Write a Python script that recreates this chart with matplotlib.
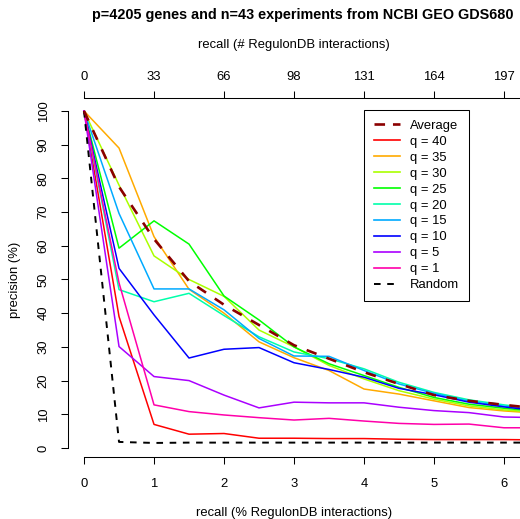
import matplotlib
matplotlib.use("Agg")
import matplotlib.pyplot as plt
from matplotlib.lines import Line2D

plt.rcParams["font.family"] = ["Liberation Sans", "DejaVu Sans"]

# recall (% of RegulonDB interactions) at which precision was measured
recall = [0, 0.5, 1, 1.5, 2, 2.5, 3, 3.5, 4, 4.5, 5, 5.5, 6, 6.5]

avg = [100, 77.5, 62, 49.5, 42.5, 36.5, 30.5, 26.5, 22.5, 19, 15.7, 14, 12.8, 11.7]
q40 = [100, 39, 7, 4.1, 4.3, 2.9, 2.9, 2.8, 2.8, 2.6, 2.5, 2.5, 2.5, 2.4]
q35 = [100, 89, 62.7, 47.1, 40, 31.5, 26.8, 23, 17.5, 16, 14, 12, 11, 10.3]
q30 = [100, 78, 57, 50, 45, 35, 30, 24.5, 20.5, 17, 14.5, 12.5, 11.3, 10.5]
q25 = [100, 59.3, 67.4, 60.5, 45.1, 38, 30, 25, 21.5, 18, 15, 13, 11.8, 10.8]
q20 = [100, 47, 43.4, 45.9, 39.3, 33, 28.5, 26.5, 23.5, 19.5, 16.5, 14.3, 12.8, 11.5]
q15 = [100, 69.6, 47.2, 47.2, 41, 32.5, 27.3, 27.2, 23, 19, 16.2, 13.9, 12.4, 11.3]
q10 = [100, 53.3, 39.5, 26.7, 29.3, 29.8, 25.3, 23.3, 21, 17.7, 15.8, 13.6, 12.2, 11]
q5 = [100, 30.1, 21.2, 20, 15.7, 11.9, 13.6, 13.4, 13.4, 12.1, 11.1, 10.5, 9.2, 9.0]
q1 = [100, 49, 12.8, 10.8, 9.8, 9, 8.3, 8.8, 8, 7.3, 7, 7.1, 6, 6]
rnd = [100, 1.8, 1.5, 1.6, 1.6, 1.6, 1.6, 1.6, 1.6, 1.6, 1.6, 1.6, 1.6, 1.6]

q_labels = ["q = 40", "q = 35", "q = 30", "q = 25", "q = 20",
            "q = 15", "q = 10", "q = 5", "q = 1"]
q_series = [q40, q35, q30, q25, q20, q15, q10, q5, q1]
# R rainbow(9)
q_colors = ["#FF0000", "#FFAA00", "#AAFF00", "#00FF00", "#00FFAA",
            "#00AAFF", "#0000FF", "#AA00FF", "#FF00AA"]

bottom_ticks = [0, 1, 2, 3, 4, 5, 6]
top_labels = ["0", "33", "66", "98", "131", "164", "197"]
y_ticks = list(range(0, 101, 10))

W, H = 520, 519
fig = plt.figure(figsize=(W / 100, H / 100), dpi=100)
L, R, T, B = 68, 520, 97.5, 457
ax = fig.add_axes([L / W, 1 - B / H, (R - L) / W, (B - T) / H])
ax.set_xlim(-0.229, 6.229)
ax.set_ylim(-2.67, 104.0)

fs = 9.4
lw = 1.1
for ys, c in zip(q_series, q_colors):
    ax.plot(recall, ys, color=c, lw=lw, zorder=2)
ax.plot(recall, rnd, color="black", lw=1.4, dashes=(3.4, 3.4), zorder=3)
ax.plot(recall, avg, color="#8B0000", lw=1.9, dashes=(4, 4), zorder=4)

# axes in R style
for s in ("right", "top"):
    ax.spines[s].set_visible(False)
ax.spines["left"].set_bounds(0, 100)
ax.spines["bottom"].set_bounds(0, 6.229)
for s in ("left", "bottom"):
    ax.spines[s].set_linewidth(0.75)
ax.set_xticks(bottom_ticks)
ax.set_xticklabels([str(t) for t in bottom_ticks])
ax.set_yticks(y_ticks)
ax.set_yticklabels([str(t) for t in y_ticks], rotation=90, va="center")
ax.tick_params(direction="out", length=5.3, width=0.75, labelsize=fs, pad=8)
ax.tick_params(axis="x", pad=10)

ax2 = ax.twiny()
ax2.set_xlim(ax.get_xlim())
for s in ("right", "left", "bottom"):
    ax2.spines[s].set_visible(False)
ax2.spines["top"].set_bounds(0, 6.229)
ax2.spines["top"].set_linewidth(0.75)
ax2.set_xticks(bottom_ticks)
ax2.set_xticklabels(top_labels)
ax2.tick_params(direction="out", length=5.3, width=0.75, labelsize=fs, pad=5)

fig.text(303 / W, 1 - 15 / H, "p=4205 genes and n=43 experiments from NCBI GEO GDS680",
         ha="center", va="center", fontsize=10.4, fontweight="bold")
fig.text(294 / W, 1 - 45 / H, "recall (# RegulonDB interactions)",
         ha="center", va="center", fontsize=fs)
fig.text(294 / W, 1 - 513 / H, "recall (% RegulonDB interactions)",
         ha="center", va="center", fontsize=fs)
fig.text(15 / W, 1 - 280 / H, "precision (%)", rotation=90,
         ha="center", va="center", fontsize=fs)

handles = [Line2D([0], [0], color="#8B0000", lw=1.9, dashes=(4, 3))]
handles += [Line2D([0], [0], color=c, lw=1.2) for c in q_colors]
handles += [Line2D([0], [0], color="black", lw=1.4, dashes=(3.4, 3.4))]
labels = ["Average"] + q_labels + ["Random"]
leg = ax.legend(handles, labels, loc="upper left",
                bbox_to_anchor=(364 / W, 1 - 110 / H), bbox_transform=fig.transFigure,
                borderaxespad=0, fontsize=fs, frameon=True, fancybox=False,
                framealpha=1, edgecolor="black", handlelength=2.0,
                handletextpad=0.8, labelspacing=0.29, borderpad=0.75)
leg.get_frame().set_linewidth(0.75)

fig.savefig("out.png", dpi=100)
